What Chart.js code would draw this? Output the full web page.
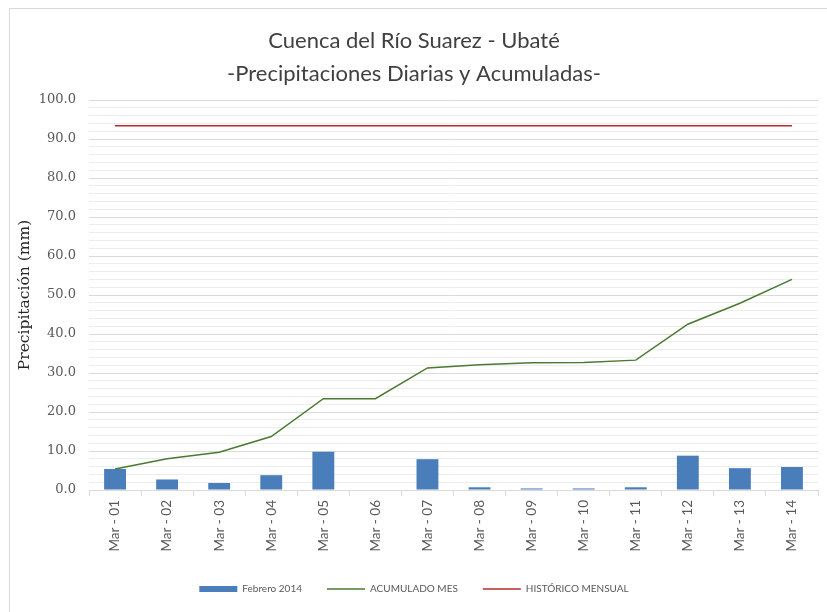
<!DOCTYPE html>
<html>
<head>
<meta charset="utf-8">
<script src="https://cdn.jsdelivr.net/npm/chart.js@4.4.1/dist/chart.umd.min.js"></script>
<style>
    html, body { margin: 0; padding: 0; background: #fff; }
    #wrap { position: relative; width: 827px; height: 612px; overflow: hidden; }
    #frame { position: absolute; left: 9px; top: 8px; width: 840px; height: 640px; border: 1px solid #d9d9d9; pointer-events: none; }
</style>
</head>
<body>
<div id="wrap">
    <canvas id="chart" width="827" height="612"></canvas>
    <div id="frame"></div>
</div>
<script>
// ── Data ──────────────────────────────────────────────────────────────────
const categories = ['Mar - 01', 'Mar - 02', 'Mar - 03', 'Mar - 04', 'Mar - 05', 'Mar - 06', 'Mar - 07',
    'Mar - 08', 'Mar - 09', 'Mar - 10', 'Mar - 11', 'Mar - 12', 'Mar - 13', 'Mar - 14'];
const dailyRain = [5.4, 2.7, 1.8, 3.8, 9.8, 0.0, 7.9, 0.7, 0.4, 0.4, 0.7, 8.8, 5.6, 5.9];
const accumulated = [5.4, 8.0, 9.7, 13.7, 23.4, 23.4, 31.3, 32.1, 32.6, 32.7, 33.3, 42.5, 47.9, 54.0];
const historical = [93.4, 93.4, 93.4, 93.4, 93.4, 93.4, 93.4, 93.4, 93.4, 93.4, 93.4, 93.4, 93.4, 93.4];
const seriesNames = ['Febrero 2014', 'ACUMULADO MES', 'HISTÓRICO MENSUAL'];
const titleLines = ['Cuenca del Río Suarez - Ubaté', '-Precipitaciones Diarias y Acumuladas-'];
const yTitle = 'Precipitación (mm)';
const yMin = 0, yMax = 100, yMinorStep = 2, yMajorStep = 10;

const TEXT = '#595959';
const SANS = "Lato, 'Open Sans', sans-serif";
const SERIF = "'DejaVu Serif', serif";

new Chart(document.getElementById('chart'), {
    data: {
        labels: categories,
        datasets: [
            {
                type: 'bar',
                label: seriesNames[0],
                data: dailyRain,
                backgroundColor: '#4a7ebb',
                categoryPercentage: 1,
                barPercentage: 0.42,
                order: 3,
            },
            {
                type: 'line',
                label: seriesNames[1],
                data: accumulated,
                borderColor: '#4a7a30',
                backgroundColor: '#4a7a30',
                borderWidth: 1.5,
                pointRadius: 0,
                tension: 0,
                order: 2,
            },
            {
                type: 'line',
                label: seriesNames[2],
                data: historical,
                borderColor: '#b32d2d',
                backgroundColor: '#b32d2d',
                borderWidth: 1.5,
                pointRadius: 0,
                tension: 0,
                order: 1,
            },
        ],
    },
    options: {
        responsive: false,
        animation: false,
        layout: { padding: { left: 10, right: 9, top: 14, bottom: 8 } },
        plugins: {
            tooltip: { enabled: false },
            title: {
                display: true,
                text: titleLines,
                color: '#404040',
                font: { family: SANS, size: 22, weight: 'normal', lineHeight: 1.5 },
                padding: { top: 10, bottom: 10 },
            },
            legend: {
                position: 'bottom',
                labels: {
                    color: TEXT,
                    font: { family: SANS, size: 10 },
                    usePointStyle: true,
                    pointStyleWidth: 38,
                    boxHeight: 6,
                    padding: 10,
                    generateLabels(chart) {
                        const sets = chart.data.datasets;
                        // trailing em spaces widen the gap between legend entries
                        return sets.map((ds, i) => ({
                            text: ds.label + (i < sets.length - 1 ? '\u2003\u2003' : ''),
                            fillStyle: ds.type === 'bar' ? ds.backgroundColor : 'rgba(0,0,0,0)',
                            strokeStyle: ds.type === 'bar' ? ds.backgroundColor : ds.borderColor,
                            lineWidth: ds.type === 'bar' ? 0 : 1.5,
                            pointStyle: ds.type === 'bar' ? 'rect' : 'line',
                            fontColor: TEXT,
                            datasetIndex: i,
                        }));
                    },
                },
            },
        },
        scales: {
            x: {
                offset: true,
                grid: {
                    offset: true,
                    drawOnChartArea: false,
                    drawTicks: true,
                    tickLength: 6,
                    color: '#d9d9d9',
                },
                border: { color: '#d9d9d9' },
                ticks: {
                    color: TEXT,
                    font: { family: SANS, size: 13.5 },
                    maxRotation: 90,
                    minRotation: 90,
                    padding: 4,
                    autoSkip: false,
                },
                afterFit(scale) { scale.height = 84; },
            },
            y: {
                min: yMin,
                max: yMax,
                border: { display: false },
                grid: {
                    drawTicks: false,
                    color: (ctx) => (ctx.tick && ctx.tick.value % yMajorStep === 0 ? '#d9d9d9' : '#ededed'),
                    lineWidth: 1,
                },
                ticks: {
                    stepSize: yMinorStep,
                    autoSkip: false,
                    color: TEXT,
                    padding: 13,
                    font: { family: SERIF, size: 13 },
                    callback: (v) => (v % yMajorStep === 0 ? v.toFixed(1) : ''),
                },
                title: {
                    display: true,
                    text: yTitle,
                    color: '#262626',
                    font: { family: SERIF, size: 15.5 },
                    padding: { top: 6, bottom: 0 },
                },
                afterFit(scale) { scale.width = 79; },
            },
        },
    },
});
</script>
</body>
</html>
